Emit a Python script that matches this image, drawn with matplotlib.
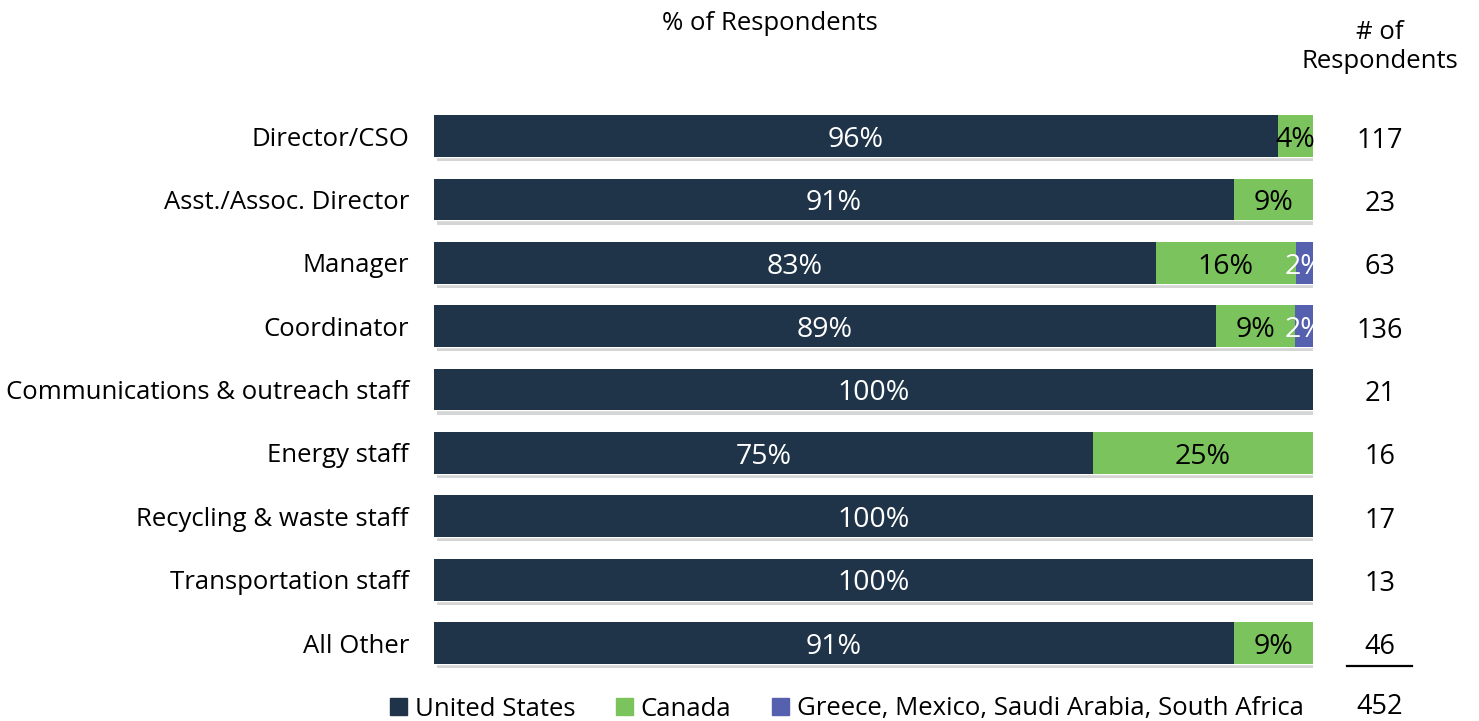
import matplotlib.pyplot as plt
from matplotlib.patches import Patch
import matplotlib.patheffects as pe
import numpy as np

roles = ['Director/CSO', 'Asst./Assoc. Director', 'Manager', 'Coordinator',
         'Communications & outreach staff', 'Energy staff', 'Recycling & waste staff',
         'Transportation staff', 'All Other']
us = [96, 91, 83, 89, 100, 75, 100, 100, 91]
canada = [4, 9, 16, 9, 0, 25, 0, 0, 9]
other = [0, 0, 2, 2, 0, 0, 0, 0, 0]
n_resp = [117, 23, 63, 136, 21, 16, 17, 13, 46]
total_resp = 452

series_names = ['United States', 'Canada', 'Greece, Mexico, Saudi Arabia, South Africa']
colors = ['#1f3448', '#7bc35c', '#5560ae']
text_colors = ['white', 'black', 'white']

plt.rcParams['font.family'] = ['Open Sans', 'DejaVu Sans']
fs = 18.5

fig = plt.figure(figsize=(14.79, 7.21), dpi=100)
ax = fig.add_axes([0.2934, 0.0642, 0.5943, 0.791])

y = np.arange(len(roles))
data = np.array([us, canada, other], dtype=float)
# rounded shares can add to 101, scale each row to fill the bar
scaled = data / data.sum(axis=0) * 100
left = np.zeros(len(roles))
shadow = [pe.SimplePatchShadow(offset=(2, -3), shadow_rgbFace='#888888', alpha=0.35), pe.Normal()]
for k in range(3):
    bars = ax.barh(y, scaled[k], left=left, height=0.66, color=colors[k], zorder=2)
    for i, b in enumerate(bars):
        if data[k, i] > 0:
            ax.text(left[i] + scaled[k, i] / 2, i + 0.06, f'{int(data[k, i])}%', ha='center',
                    va='center', color=text_colors[k], fontsize=20.5, zorder=4)
    left += scaled[k]

# shadow behind each whole bar
for i in range(len(roles)):
    r = plt.Rectangle((0, i - 0.33), 100, 0.66, color='white', zorder=1,
                      path_effects=shadow)
    ax.add_patch(r)

ax.set_xlim(0, 100)
ax.set_ylim(len(roles) - 0.5, -0.5)
ax.set_yticks(y)
ax.set_yticklabels(roles, fontsize=fs)
ax.tick_params(axis='y', length=0, pad=18)
ax.set_xticks([])
for s in ax.spines.values():
    s.set_visible(False)

# respondent counts
for i, n in enumerate(n_resp):
    ax.text(107.6, i + 0.07, str(n), ha='center', va='center', fontsize=19.5)
fig.text(1380 / 1479, 1 - 707 / 721, str(total_resp), ha='center', va='center', fontsize=19.5)
fig.add_artist(plt.Line2D([1347 / 1479, 1412 / 1479], [1 - 666 / 721, 1 - 666 / 721],
                          color='black', lw=1.6))

fig.text(770 / 1479, 1 - 24 / 721, '% of Respondents', ha='center', va='center', fontsize=fs)
fig.text(1380 / 1479, 1 - 47 / 721, '# of\nRespondents', ha='center', va='center',
         fontsize=fs, linespacing=1.2)

handles = [Patch(color=c) for c in colors]
fig.legend(handles, series_names, loc='center', bbox_to_anchor=(847 / 1479, 1 - 709 / 721),
           ncol=3, frameon=False, fontsize=fs, handlelength=0.65, handleheight=0.65,
           handletextpad=0.3, columnspacing=1.6, borderpad=0)

fig.savefig('out.png', dpi=100)
